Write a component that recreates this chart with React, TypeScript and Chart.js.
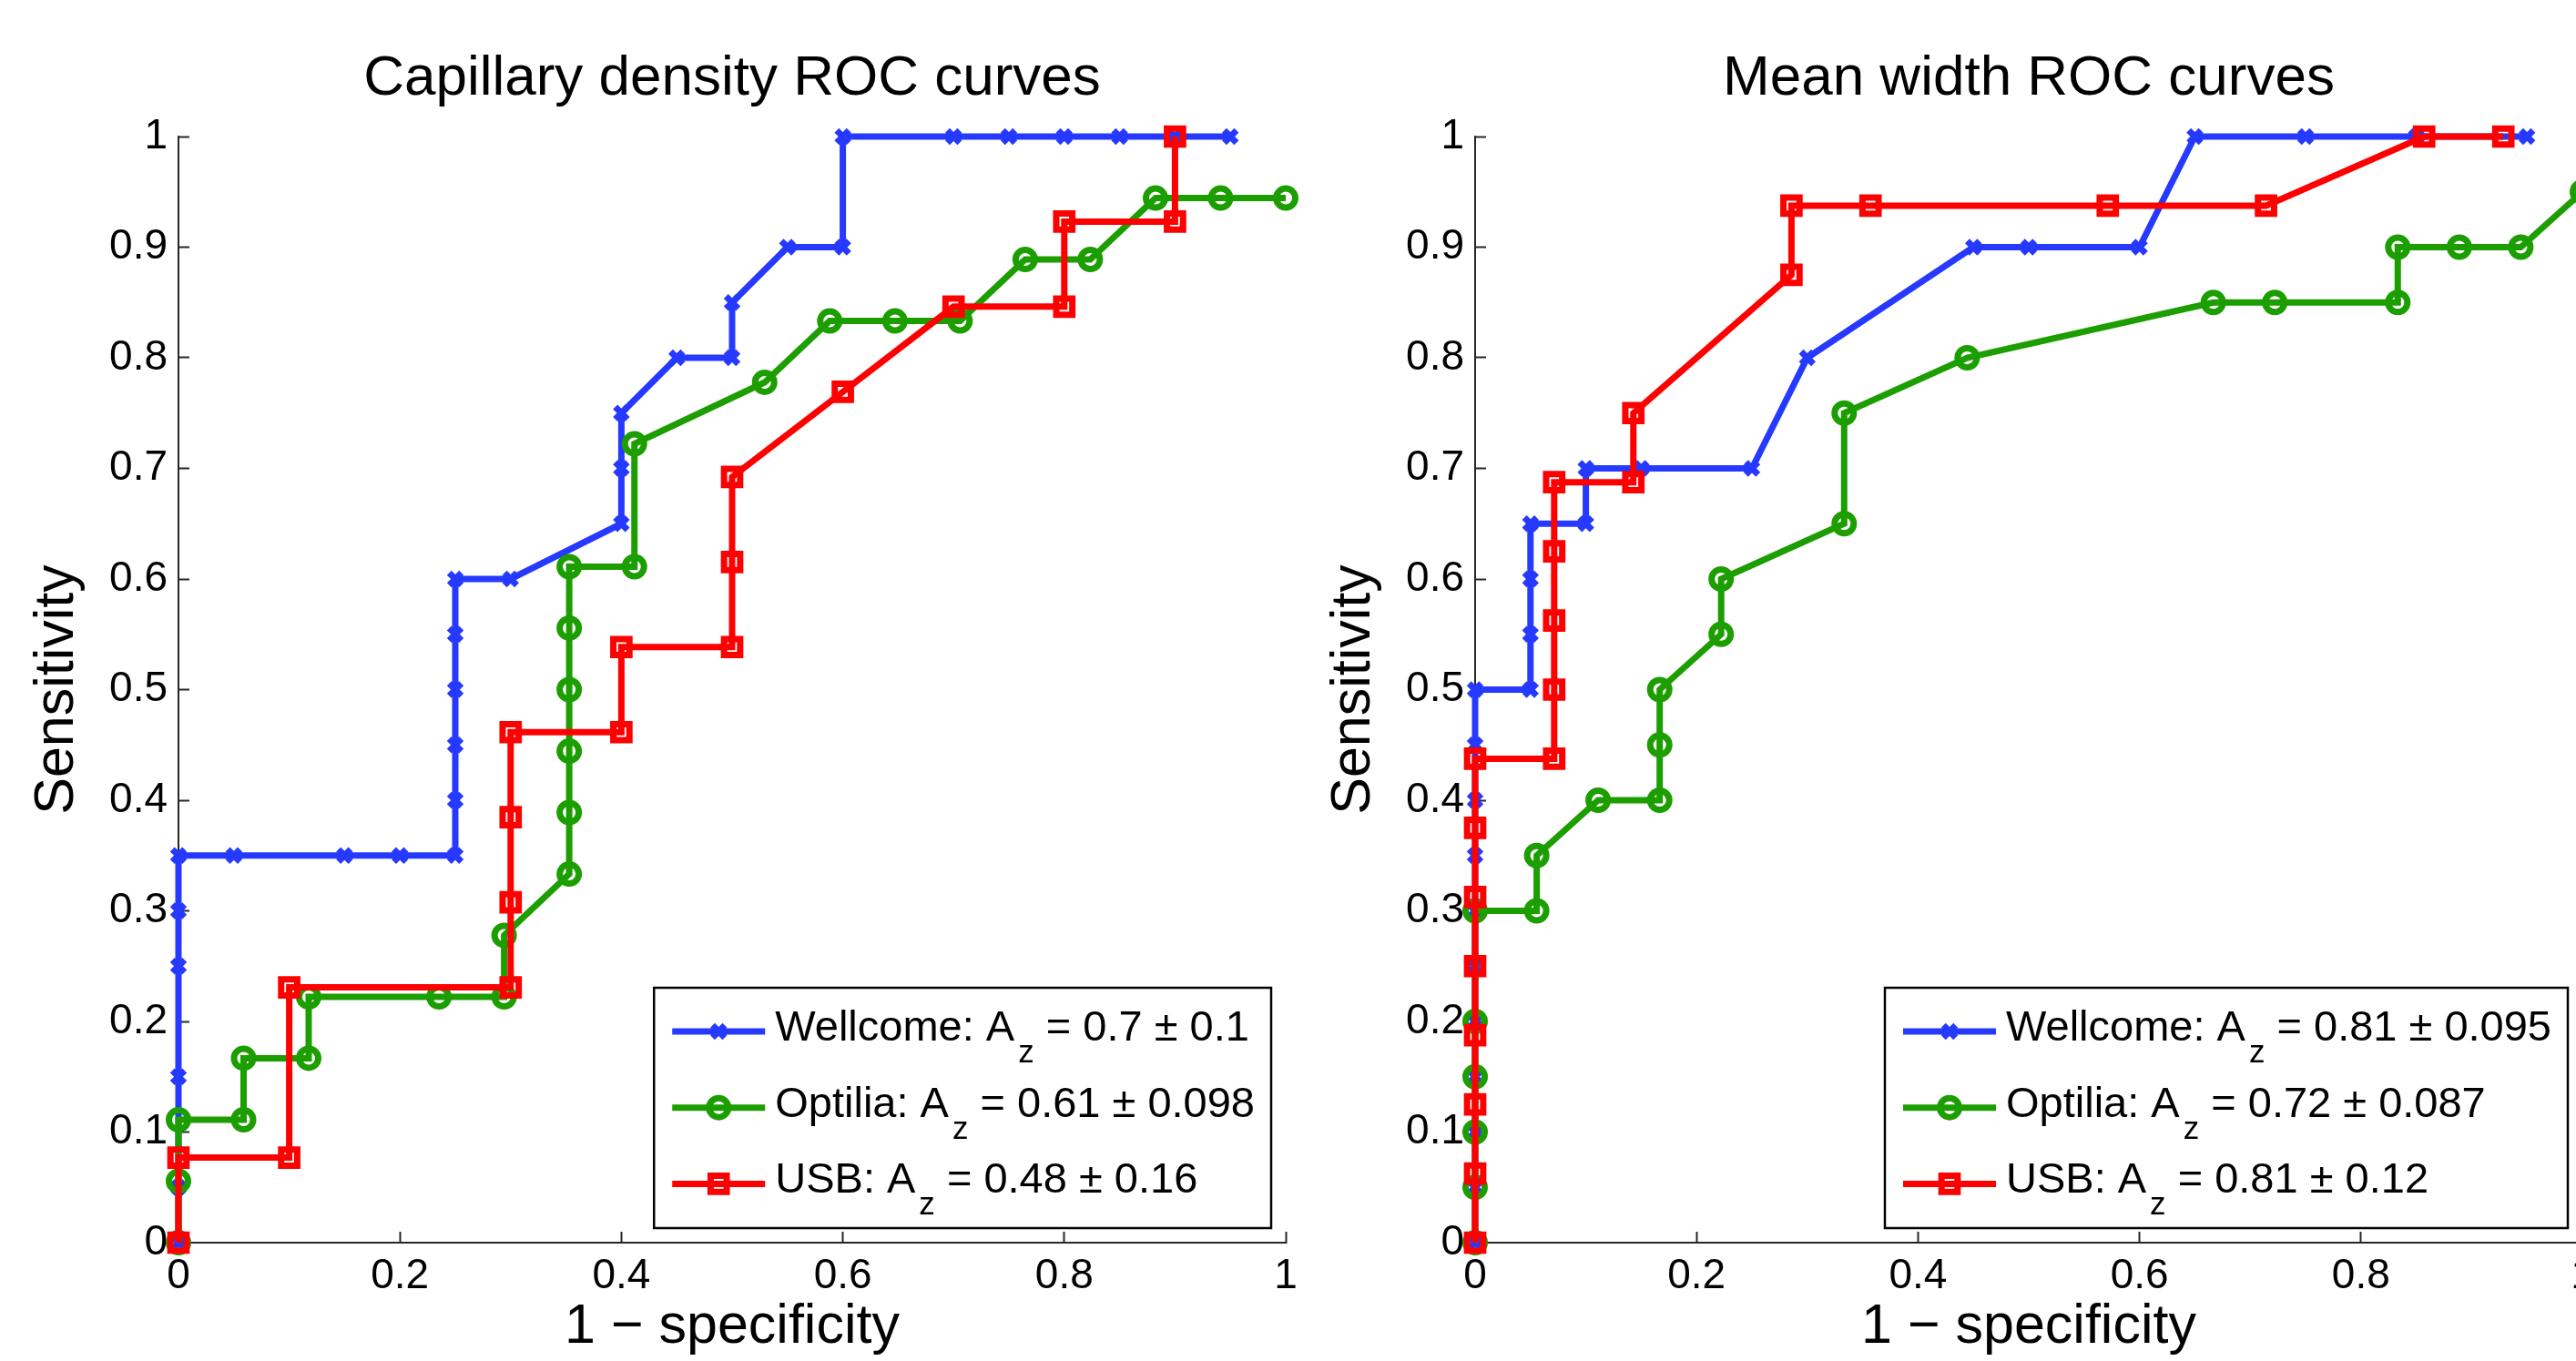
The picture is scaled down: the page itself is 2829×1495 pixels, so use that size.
import React, { useEffect, useRef } from 'react';
import { Chart, registerables } from 'chart.js';

Chart.register(...registerables);

const FONT = '"Liberation Sans", Arial, Helvetica, sans-serif';
const BLUE = '#2639ff';
const GREEN = '#1c9e00';
const RED = '#ff0000';

// ---------- Capillary density (left) ----------
const capWellcomeX = [0, 0, 0, 0, 0, 0, 0.05, 0.15, 0.2, 0.25, 0.25, 0.25, 0.25, 0.25, 0.25, 0.3, 0.4, 0.4, 0.4, 0.45, 0.5, 0.5, 0.55, 0.6, 0.6, 0.7, 0.75, 0.8, 0.85, 0.9, 0.95];
const capWellcomeY = [0, 0.05, 0.15, 0.25, 0.3, 0.35, 0.35, 0.35, 0.35, 0.35, 0.4, 0.45, 0.5, 0.55, 0.6, 0.6, 0.65, 0.7, 0.75, 0.8, 0.8, 0.85, 0.9, 0.9, 1, 1, 1, 1, 1, 1, 1];

const capOptiliaX = [0, 0, 0, 0.0588, 0.0588, 0.1176, 0.1176, 0.2353, 0.2941, 0.2941, 0.3529, 0.3529, 0.3529, 0.3529, 0.3529, 0.3529, 0.4118, 0.4118, 0.5294, 0.5882, 0.6471, 0.7059, 0.7647, 0.8235, 0.8824, 0.9412, 1];
const capOptiliaY = [0, 0.0556, 0.1111, 0.1111, 0.1667, 0.1667, 0.2222, 0.2222, 0.2222, 0.2778, 0.3333, 0.3889, 0.4444, 0.5, 0.5556, 0.6111, 0.6111, 0.7222, 0.7778, 0.8333, 0.8333, 0.8333, 0.8889, 0.8889, 0.9444, 0.9444, 0.9444];

const capUsbX = [0, 0, 0.1, 0.1, 0.3, 0.3, 0.3, 0.3, 0.4, 0.4, 0.5, 0.5, 0.5, 0.6, 0.7, 0.8, 0.8, 0.9, 0.9];
const capUsbY = [0, 0.0769, 0.0769, 0.2308, 0.2308, 0.3077, 0.3846, 0.4615, 0.4615, 0.5385, 0.5385, 0.6154, 0.6923, 0.7692, 0.8462, 0.8462, 0.9231, 0.9231, 1];

// ---------- Mean width (right) ----------
const meanWellcomeX = [0, 0, 0, 0, 0, 0, 0, 0, 0, 0, 0, 0.05, 0.05, 0.05, 0.05, 0.1, 0.1, 0.15, 0.25, 0.3, 0.45, 0.5, 0.6, 0.65, 0.75, 0.85, 0.95];
const meanWellcomeY = [0, 0.05, 0.1, 0.15, 0.2, 0.25, 0.3, 0.35, 0.4, 0.45, 0.5, 0.5, 0.55, 0.6, 0.65, 0.65, 0.7, 0.7, 0.7, 0.8, 0.9, 0.9, 0.9, 1, 1, 1, 1];

const meanOptiliaX = [0, 0, 0, 0, 0, 0, 0.0556, 0.0556, 0.1111, 0.1667, 0.1667, 0.1667, 0.2222, 0.2222, 0.3333, 0.3333, 0.4444, 0.6667, 0.7222, 0.8333, 0.8333, 0.8889, 0.9444, 1];
const meanOptiliaY = [0, 0.05, 0.1, 0.15, 0.2, 0.3, 0.3, 0.35, 0.4, 0.4, 0.45, 0.5, 0.55, 0.6, 0.65, 0.75, 0.8, 0.85, 0.85, 0.85, 0.9, 0.9, 0.9, 0.95];

const meanUsbX = [0, 0, 0, 0, 0, 0, 0, 0, 0.0714, 0.0714, 0.0714, 0.0714, 0.0714, 0.1429, 0.1429, 0.2857, 0.2857, 0.3571, 0.5714, 0.7143, 0.8571, 0.9286];
const meanUsbY = [0, 0.0625, 0.125, 0.1875, 0.25, 0.3125, 0.375, 0.4375, 0.4375, 0.5, 0.5625, 0.625, 0.6875, 0.6875, 0.75, 0.875, 0.9375, 0.9375, 0.9375, 0.9375, 1, 1];

// ---------- Labels ----------
const seriesNames = ['Wellcome', 'Optilia', 'USB'];
const capAz = ['0.7', '0.61', '0.48'];
const capAzErr = ['0.1', '0.098', '0.16'];
const meanAz = ['0.81', '0.72', '0.81'];
const meanAzErr = ['0.095', '0.087', '0.12'];
const chartTitles = ['Capillary density ROC curves', 'Mean width ROC curves'];
const xAxisTitle = '1 \u2212 specificity';
const yAxisTitle = 'Sensitivity';

const seriesColors = [BLUE, GREEN, RED];
const seriesStyles = ['crossRot', 'circle', 'rect'];
const seriesRadius = [9.5, 10.5, 12.5];
const LW = 7;

const fmtTick = (v: any) => String(Math.round(Number(v) * 10) / 10);

function drawMarker(ctx: CanvasRenderingContext2D, style: string, x: number, y: number, r: number, color: string, lw: number) {
  ctx.save();
  ctx.strokeStyle = color;
  ctx.lineWidth = lw;
  ctx.beginPath();
  if (style === 'circle') {
    ctx.arc(x, y, r, 0, Math.PI * 2);
  } else if (style === 'rect') {
    const s = r * Math.SQRT1_2;
    ctx.rect(x - s, y - s, 2 * s, 2 * s);
  } else {
    const o = r * Math.SQRT1_2;
    ctx.moveTo(x - o, y - o);
    ctx.lineTo(x + o, y + o);
    ctx.moveTo(x - o, y + o);
    ctx.lineTo(x + o, y - o);
  }
  ctx.stroke();
  ctx.restore();
}

const rocLegend = {
  id: 'rocLegend',
  afterDatasetsDraw(chart: any, _args: any, opts: any) {
    const { ctx, chartArea } = chart;
    const entries = opts.entries as any[];
    if (!entries) return;
    const mainFont = `47px ${FONT}`;
    const subFont = `35px ${FONT}`;
    ctx.save();
    const widths = entries.map((e) => {
      ctx.font = mainFont;
      const w1 = ctx.measureText(e.head).width;
      const w3 = ctx.measureText(e.tail).width;
      ctx.font = subFont;
      const w2 = ctx.measureText('z').width;
      return w1 + 4 + w2 + w3;
    });
    const textW = Math.max(...widths);
    const boxW = 133 + textW + 18;
    const boxH = 264;
    const right = chartArea.right - 16;
    const bottom = chartArea.bottom - 16;
    const left = right - boxW;
    const top = bottom - boxH;
    ctx.fillStyle = '#ffffff';
    ctx.fillRect(left, top, boxW, boxH);
    ctx.strokeStyle = '#000000';
    ctx.lineWidth = 2.5;
    ctx.strokeRect(left, top, boxW, boxH);
    entries.forEach((e, i) => {
      const cy = top + 48 + i * 83.7;
      ctx.strokeStyle = e.color;
      ctx.lineWidth = LW;
      ctx.beginPath();
      ctx.moveTo(left + 20, cy);
      ctx.lineTo(left + 122, cy);
      ctx.stroke();
      drawMarker(ctx, e.style, left + 71, cy, e.radius, e.color, LW);
      let x = left + 133;
      const base = cy + 10;
      ctx.fillStyle = '#000000';
      ctx.textBaseline = 'alphabetic';
      ctx.textAlign = 'left';
      ctx.font = mainFont;
      ctx.fillText(e.head, x, base);
      x += ctx.measureText(e.head).width + 4;
      ctx.font = subFont;
      ctx.fillText('z', x, base + 24);
      x += ctx.measureText('z').width;
      ctx.font = mainFont;
      ctx.fillText(e.tail, x, base);
    });
    ctx.restore();
  },
};

function makeDataset(i: number, xs: number[], ys: number[]) {
  return {
    label: seriesNames[i],
    data: xs.map((x, k) => ({ x, y: ys[k] })),
    borderColor: seriesColors[i],
    backgroundColor: seriesColors[i],
    borderWidth: LW,
    pointStyle: seriesStyles[i],
    pointRadius: seriesRadius[i],
    pointHoverRadius: seriesRadius[i],
    pointBorderWidth: LW,
    pointBorderColor: seriesColors[i],
    pointBackgroundColor: 'rgba(0,0,0,0)',
    tension: 0,
    fill: false,
    showLine: true,
    clip: 24,
    order: 2 - i,
  };
}

function makeConfig(title: string, sets: number[][][], az: string[], azErr: string[]) {
  const entries = seriesNames.map((n, i) => ({
    head: `${n}: A`,
    tail: ` = ${az[i]} \u00B1 ${azErr[i]}`,
    color: seriesColors[i],
    style: seriesStyles[i],
    radius: seriesRadius[i],
  }));
  return {
    type: 'line' as const,
    data: {
      datasets: sets.map((s, i) => makeDataset(i, s[0], s[1])),
    },
    plugins: [rocLegend],
    options: {
      responsive: false,
      animation: false as const,
      devicePixelRatio: 1,
      layout: { padding: { left: 0, right: 196, top: 0, bottom: 0 } },
      plugins: {
        legend: { display: false },
        tooltip: { enabled: false },
        title: {
          display: true,
          text: title,
          fullSize: false,
          color: '#000000',
          font: { family: FONT, size: 62, weight: 'normal' as const },
          padding: { top: 50, bottom: 25.6 },
        },
        rocLegend: { entries },
      },
      scales: {
        x: {
          type: 'linear' as const,
          position: 'bottom' as const,
          min: 0,
          max: 1,
          ticks: {
            stepSize: 0.2,
            color: '#000000',
            font: { family: FONT, size: 46 },
            padding: 22,
            maxRotation: 0,
            autoSkip: false,
            callback: fmtTick,
          },
          grid: { drawOnChartArea: false, drawTicks: true, tickLength: -12, tickColor: '#262626', tickWidth: 2 },
          border: { display: true, color: '#262626', width: 2 },
          title: {
            display: true,
            text: xAxisTitle,
            color: '#000000',
            font: { family: FONT, size: 61 },
            padding: { top: 0, bottom: 0 },
          },
          afterFit: (s: any) => {
            s.height = 130;
          },
        },
        y: {
          type: 'linear' as const,
          position: 'left' as const,
          min: 0,
          max: 1,
          ticks: {
            stepSize: 0.1,
            color: '#000000',
            font: { family: FONT, size: 46 },
            padding: 24,
            autoSkip: false,
            callback: fmtTick,
          },
          grid: { drawOnChartArea: false, drawTicks: true, tickLength: -12, tickColor: '#262626', tickWidth: 2 },
          border: { display: true, color: '#262626', width: 2 },
          title: {
            display: true,
            text: yAxisTitle,
            color: '#000000',
            font: { family: FONT, size: 61 },
            padding: { top: 27, bottom: 0 },
          },
          afterFit: (s: any) => {
            s.width = 196;
          },
        },
      },
    },
  };
}

export default function App() {
  const leftRef = useRef<HTMLCanvasElement | null>(null);
  const rightRef = useRef<HTMLCanvasElement | null>(null);

  useEffect(() => {
    Chart.defaults.font.family = FONT;
    const left = new Chart(
      leftRef.current as HTMLCanvasElement,
      makeConfig(
        chartTitles[0],
        [
          [capWellcomeX, capWellcomeY],
          [capOptiliaX, capOptiliaY],
          [capUsbX, capUsbY],
        ],
        capAz,
        capAzErr
      ) as any
    );
    const right = new Chart(
      rightRef.current as HTMLCanvasElement,
      makeConfig(
        chartTitles[1],
        [
          [meanWellcomeX, meanWellcomeY],
          [meanOptiliaX, meanOptiliaY],
          [meanUsbX, meanUsbY],
        ],
        meanAz,
        meanAzErr
      ) as any
    );
    return () => {
      left.destroy();
      right.destroy();
    };
  }, []);

  return (
    <div
      style={{
        position: 'absolute',
        left: 0,
        top: 0,
        width: 2829,
        height: 1495,
        overflow: 'hidden',
        background: '#ffffff',
      }}
    >
      <canvas
        ref={leftRef}
        width={1608}
        height={1495}
        style={{ position: 'absolute', left: 0, top: 0, width: 1608, height: 1495 }}
      />
      <canvas
        ref={rightRef}
        width={1608}
        height={1495}
        style={{ position: 'absolute', left: 1424, top: 0, width: 1608, height: 1495 }}
      />
    </div>
  );
}
